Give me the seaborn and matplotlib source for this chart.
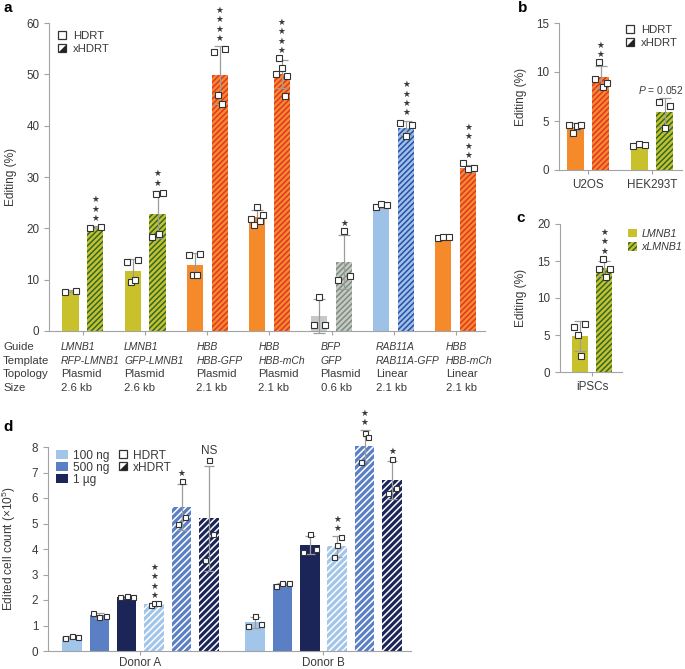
import matplotlib
matplotlib.use("Agg")
import matplotlib.pyplot as plt
import matplotlib.transforms as mtransforms
from matplotlib.lines import Line2D
from matplotlib.patches import Patch
from matplotlib.legend_handler import HandlerTuple
import seaborn as sns
import numpy as np
import pandas as pd

# ---------------- data ----------------
# panel a
a_guide = ["LMNB1", "LMNB1", "HBB", "HBB", "BFP", "RAB11A", "HBB"]
a_template = ["RFP-LMNB1", "GFP-LMNB1", "HBB-GFP", "HBB-mCh", "GFP", "RAB11A-GFP", "HBB-mCh"]
a_topology = ["Plasmid", "Plasmid", "Plasmid", "Plasmid", "Plasmid", "Linear", "Linear"]
a_size = ["2.6 kb", "2.6 kb", "2.1 kb", "2.1 kb", "0.6 kb", "2.1 kb", "2.1 kb"]
a_hdrt_mean = [7.7, 11.7, 12.9, 22.2, 3.0, 24.2, 18.2]
a_hdrt_sd = [0.2, 2.3, 2.2, 1.3, 3.3, 0.3, 0.2]
a_hdrt_pts = [[7.5, 7.8], [13.5, 9.6, 9.9, 13.8], [14.8, 10.9, 10.9, 15.0],
              [21.8, 20.7, 24.2, 21.5, 22.6], [1.1, 6.6, 1.1], [24.1, 24.7, 24.5], [18.2, 18.4, 18.3]]
a_x_mean = [20.2, 22.7, 49.9, 50.0, 13.4, 39.6, 31.7]
a_x_sd = [0.2, 4.6, 5.6, 2.7, 5.3, 1.4, 0.7]
a_x_pts = [[20.1, 20.3], [18.4, 26.7, 18.9, 26.8], [54.3, 46.0, 44.3, 55.0],
           [50.0, 53.1, 51.3, 45.7, 49.6], [10.0, 19.5, 10.7], [40.5, 38.0, 40.2], [32.7, 31.6, 31.7]]
a_stars = [3, 2, 4, 4, 1, 4, 4]

# panel b
b_cells = ["U2OS", "HEK293T"]
b_hdrt_mean = [4.4, 2.6]
b_hdrt_sd = [0.4, 0.15]
b_hdrt_pts = [[4.6, 3.8, 4.5, 4.6], [2.5, 2.7, 2.6]]
b_x_mean = [9.5, 5.9]
b_x_sd = [1.1, 1.4]
b_x_pts = [[9.3, 11.0, 8.5, 8.9], [6.9, 4.3, 6.5]]

# panel c
c_cells = ["iPSCs"]
c_conds = ["LMNB1", "xLMNB1"]
c_mean = [4.9, 14.0]
c_sd = [2.0, 1.0]
c_pts = [[6.1, 5.0, 2.2, 6.5], [13.9, 15.3, 12.9, 13.9]]

# panel d (rows: donor, cols: dose)
d_donors = ["Donor A", "Donor B"]
d_doses = ["100 ng", "500 ng", "1 µg"]
d_hdrt_mean = [[0.55, 1.40, 2.12], [1.12, 2.62, 4.15]]
d_hdrt_sd = [[0.05, 0.10, 0.04], [0.20, 0.06, 0.35]]
d_hdrt_pts = [[[0.50, 0.60, 0.55], [1.50, 1.32, 1.38], [2.10, 2.15, 2.10]],
              [[1.00, 1.37, 1.05], [2.55, 2.67, 2.65], [3.90, 4.57, 4.00]]]
d_x_mean = [[1.84, 5.65, 5.20], [4.10, 8.05, 6.70]]
d_x_sd = [[0.04, 0.90, 2.05], [0.40, 0.60, 0.75]]
d_x_pts = [[[1.79, 1.88, 1.87], [5.00, 6.65, 5.27], [3.55, 7.48, 4.60]],
           [[3.68, 4.15, 4.48], [7.42, 8.53, 8.38], [6.20, 7.54, 6.40]]]
d_x_marks = [["4", "1", "NS"], ["2", "2", "1"]]

# ---------------- style ----------------
sns.set_style("ticks")
TXT = "#3a3a3a"
AXC = "#a3a3a3"
plt.rcParams["font.family"] = ["Liberation Sans", "DejaVu Sans"]
plt.rcParams.update({
    "mathtext.fontset": "custom",
    "mathtext.rm": "Liberation Sans",
    "mathtext.it": "Liberation Sans:italic",
    "mathtext.default": "regular",
    "hatch.linewidth": 1.1,
    "text.color": TXT, "axes.labelcolor": TXT,
    "xtick.color": AXC, "ytick.color": AXC,
    "xtick.labelcolor": TXT, "ytick.labelcolor": TXT,
    "axes.edgecolor": AXC, "axes.linewidth": 0.8,
    "xtick.major.width": 0.8, "ytick.major.width": 0.8,
    "xtick.major.size": 3, "ytick.major.size": 3.5,
    "xtick.labelsize": 8.4, "ytick.labelsize": 8.4,
    "axes.labelsize": 8.6,
})

YEL = "#c8c12c"; GRN = "#2d6a2f"
ORA = "#f58a2b"; RED = "#e2342b"
GRY = "#c4cbc4"; GRYD = "#7f8a80"
LBL = "#9dc1e7"; DBL = "#2b4ea6"
D_COL = ["#a2c5ea", "#5a7fc5", "#1c2558"]
PT_EDGE = "#333333"
ERR = "#9c9c9c"

W, H = 685, 669
fig = plt.figure(figsize=(W / 100, H / 100), dpi=100)


def px_axes(l, t, r, b):
    return fig.add_axes([l / W, 1 - b / H, (r - l) / W, (b - t) / H])


def draw_bars(ax, cats, conds, means, colors, hcolors, hatch, width, gap):
    rows = []
    for ci, cond in enumerate(conds):
        for k, cat in enumerate(cats):
            rows.append({"cat": cat, "cond": cond, "value": means[ci][k]})
    df = pd.DataFrame(rows)
    sns.barplot(data=df, x="cat", y="value", hue="cond", order=cats, hue_order=conds,
                width=width, gap=gap, errorbar=None, legend=False, ax=ax)
    centers = []
    for ci, cont in enumerate(ax.containers):
        row = []
        for k, bar in enumerate(cont):
            bar.set_facecolor(colors[ci][k])
            bar.set_linewidth(0)
            bar.set_clip_on(False)
            if hcolors[ci][k] is not None:
                bar.set_hatch(hatch)
                bar.set_edgecolor(hcolors[ci][k])
            row.append(bar.get_x() + bar.get_width() / 2)
        centers.append(row)
    return centers


def draw_err_pts(ax, xs, means, sds, pts, spread, ms, cap):
    eb = ax.errorbar(xs, means, yerr=sds, fmt="none", ecolor=ERR, elinewidth=0.9,
                     capsize=cap, capthick=0.9, zorder=4)
    for art in eb.lines[1] + eb.lines[2]:
        art.set_clip_on(False)
    for x, p in zip(xs, pts):
        offs = np.linspace(-spread, spread, len(p))
        ax.plot(x + offs, p, ls="none", marker="s", ms=ms, mfc="white", mec=PT_EDGE,
                mew=0.8, zorder=5, clip_on=False)


def add_stars(ax, x, top, n, base=5.5, step=6.8):
    for k in range(n):
        ax.annotate("★", (x, top), xytext=(0, base + k * step), textcoords="offset points",
                    ha="center", va="center", fontsize=6.3, color=TXT, annotation_clip=False)


def style_axes(ax):
    sns.despine(ax=ax)
    ax.set_xlabel("")


MS_LEG = 5.6
sq = Line2D([], [], ls="none", marker="s", ms=MS_LEG, mfc="white", mec=PT_EDGE, mew=0.9)
tri = Line2D([], [], ls="none", marker=[(-1, -1), (1, -1), (1, 1), (-1, -1)], ms=MS_LEG,
             mfc="#222222", mec="#222222", mew=0.0)
xhd_handle = (Line2D([], [], ls="none", marker="s", ms=MS_LEG, mfc="white", mec=PT_EDGE, mew=0.9), tri)
HMAP = {tuple: HandlerTuple(ndivide=1)}

# ---------------- panel a ----------------
axa = px_axes(49, 23, 485, 331)
a_keys = [f"{g}|{t}|{p}" for g, t, p in zip(a_guide, a_template, a_topology)]
a_cols = [[YEL, YEL, ORA, ORA, GRY, LBL, ORA], [YEL, YEL, ORA, ORA, GRY, LBL, ORA]]
a_hcols = [[None] * 7, [GRN, GRN, RED, RED, GRYD, DBL, RED]]
cen = draw_bars(axa, a_keys, ["HDRT", "xHDRT"], [a_hdrt_mean, a_x_mean], a_cols, a_hcols,
                "//////", 0.8, 0.35)
draw_err_pts(axa, cen[0], a_hdrt_mean, a_hdrt_sd, a_hdrt_pts, 0.09, 4.2, 4)
draw_err_pts(axa, cen[1], a_x_mean, a_x_sd, a_x_pts, 0.09, 4.2, 4)
for k in range(len(a_keys)):
    top = max(a_x_mean[k] + a_x_sd[k], max(a_x_pts[k]))
    add_stars(axa, cen[1][k], top, a_stars[k])
axa.set_ylim(0, 60)
axa.set_yticks(range(0, 61, 10))
axa.set_xlim(-0.547, 6.47)
axa.set_xticks(range(len(a_keys)))
axa.set_xticklabels([""] * len(a_keys))
axa.set_ylabel("Editing (%)")
axa.yaxis.set_label_coords(-0.073, 0.5)
style_axes(axa)
axa.legend([sq, xhd_handle], ["HDRT", "xHDRT"], handler_map=HMAP,
           loc="upper left", bbox_to_anchor=(0.0, 1.0), frameon=False, fontsize=8.2,
           handlelength=0.9, handletextpad=0.5, labelspacing=0.3, borderaxespad=0.3)

# table under panel a
trans = mtransforms.blended_transform_factory(axa.transData, fig.transFigure)
row_names = ["Guide", "Template", "Topology", "Size"]
row_y = [347, 361, 374, 388]
rows_vals = [a_guide, a_template, a_topology, a_size]
col_shift = [-0.354, -0.338, -0.177, -0.177, -0.177, -0.29, -0.16]
for name, y, vals in zip(row_names, row_y, rows_vals):
    fig.text(3 / W, 1 - y / H, name, ha="left", va="center", fontsize=8.2)
    italic = name in ("Guide", "Template")
    for k, v in enumerate(vals):
        axa.text(k + col_shift[k], 1 - y / H, v, transform=trans, ha="left", va="center",
                 fontsize=7.5 if italic else 8.2, fontstyle="italic" if italic else "normal")

# ---------------- panel b ----------------
axb = px_axes(559, 23, 682, 170)
b_cols = [[ORA, YEL], [ORA, YEL]]
b_hcols = [[None, None], [RED, GRN]]
cenb = draw_bars(axb, b_cells, ["HDRT", "xHDRT"], [b_hdrt_mean, b_x_mean], b_cols, b_hcols,
                 "//////", 0.8, 0.33)
draw_err_pts(axb, cenb[0], b_hdrt_mean, b_hdrt_sd, b_hdrt_pts, 0.09, 4.2, 4)
draw_err_pts(axb, cenb[1], b_x_mean, b_x_sd, b_x_pts, 0.09, 4.2, 4)
add_stars(axb, cenb[1][0], max(b_x_mean[0] + b_x_sd[0], max(b_x_pts[0])), 2)
axb.annotate(r"$\it{P}$ = 0.052", (cenb[1][1], b_x_mean[1] + b_x_sd[1]), xytext=(-3, 6),
             textcoords="offset points", ha="center", va="center", fontsize=7.4,
             annotation_clip=False)
axb.set_ylim(0, 15)
axb.set_yticks([0, 5, 10, 15])
axb.set_xlim(-0.453, 1.47)
axb.set_ylabel("Editing (%)")
axb.yaxis.set_label_coords(-0.26, 0.5)
style_axes(axb)
axb.legend([sq, xhd_handle], ["HDRT", "xHDRT"], handler_map=HMAP,
           loc="upper right", bbox_to_anchor=(1.03, 1.04), frameon=False, fontsize=8.2,
           handlelength=0.9, handletextpad=0.5, labelspacing=0.25, borderaxespad=0.3)

# ---------------- panel c ----------------
axc = px_axes(560, 224, 622, 372)
cenc = draw_bars(axc, c_cells, c_conds, [[c_mean[0]], [c_mean[1]]], [[YEL], [YEL]],
                 [[None], [GRN]], "//////", 0.8, 0.35)
draw_err_pts(axc, [cenc[0][0], cenc[1][0]], c_mean, c_sd, c_pts, 0.09, 4.2, 4)
add_stars(axc, cenc[1][0], max(c_mean[1] + c_sd[1], max(c_pts[1])), 3)
axc.set_ylim(0, 20)
axc.set_yticks([0, 5, 10, 15, 20])
axc.set_xlim(-0.516, 0.484)
axc.set_ylabel("Editing (%)")
axc.yaxis.set_label_coords(-0.53, 0.5)
style_axes(axc)
c_handles = [Patch(facecolor=YEL, edgecolor="none"),
             Patch(facecolor=YEL, edgecolor=GRN, hatch="//////", linewidth=0)]
axc.legend(c_handles, c_conds, loc="upper left", bbox_to_anchor=(0.98, 1.02), frameon=False,
           prop={"style": "italic", "size": 7.7}, handlelength=0.8, handleheight=0.9,
           handletextpad=0.45, labelspacing=0.3, borderaxespad=0.3)

# ---------------- panel d ----------------
axd = px_axes(48, 426.6, 411, 651)
d_hue = [f"{d} HDRT" for d in d_doses] + [f"{d} xHDRT" for d in d_doses]
d_means = [[d_hdrt_mean[j][i] for j in range(2)] for i in range(3)] + \
          [[d_x_mean[j][i] for j in range(2)] for i in range(3)]
d_cols = [[D_COL[i]] * 2 for i in range(3)] * 2
d_hcols = [[None, None]] * 3 + [["white", "white"]] * 3
cend = draw_bars(axd, d_donors, d_hue, d_means, d_cols, d_hcols, "/////", 0.9, 0.29)
for i in range(3):
    draw_err_pts(axd, cend[i], [d_hdrt_mean[j][i] for j in range(2)],
                 [d_hdrt_sd[j][i] for j in range(2)], [d_hdrt_pts[j][i] for j in range(2)],
                 0.035, 3.6, 3.5)
    draw_err_pts(axd, cend[3 + i], [d_x_mean[j][i] for j in range(2)],
                 [d_x_sd[j][i] for j in range(2)], [d_x_pts[j][i] for j in range(2)],
                 0.02, 3.6, 3.5)
    for j in range(2):
        top = max(d_x_mean[j][i] + d_x_sd[j][i], max(d_x_pts[j][i]))
        mark = d_x_marks[j][i]
        if mark == "NS":
            axd.annotate("NS", (cend[3 + i][j], top), xytext=(0, 7), textcoords="offset points",
                         ha="center", va="center", fontsize=8.5, annotation_clip=False)
        else:
            add_stars(axd, cend[3 + i][j], top, int(mark))
axd.set_ylim(0, 8.8)
axd.set_yticks(range(0, 9))
axd.spines["left"].set_bounds(0, 8)
axd.set_xlim(-0.505, 1.478)
axd.tick_params(axis="x", pad=1.2)
axd.set_ylabel("Edited cell count (×10$^{5}$)")
axd.yaxis.set_label_coords(-0.083, 8 / 8.8 / 2)
style_axes(axd)
d_handles = [Patch(facecolor=c, edgecolor="none") for c in D_COL] + [sq, xhd_handle]
axd.legend(d_handles, d_doses + ["HDRT", "xHDRT"], handler_map=HMAP,
           ncol=2, loc="upper left", bbox_to_anchor=(0.0, 0.935), frameon=False, fontsize=8.6,
           handlelength=1.0, handleheight=0.8, handletextpad=0.4, labelspacing=0.0,
           columnspacing=0.6, borderaxespad=0.3)

# panel letters
for lab, x, y in [("a", 3, 8), ("b", 518, 8), ("c", 516, 218), ("d", 3, 427)]:
    fig.text(x / W, 1 - y / H, lab, fontsize=11, fontweight="bold", color="black",
             ha="left", va="center")

fig.savefig("out.png", dpi=100)
